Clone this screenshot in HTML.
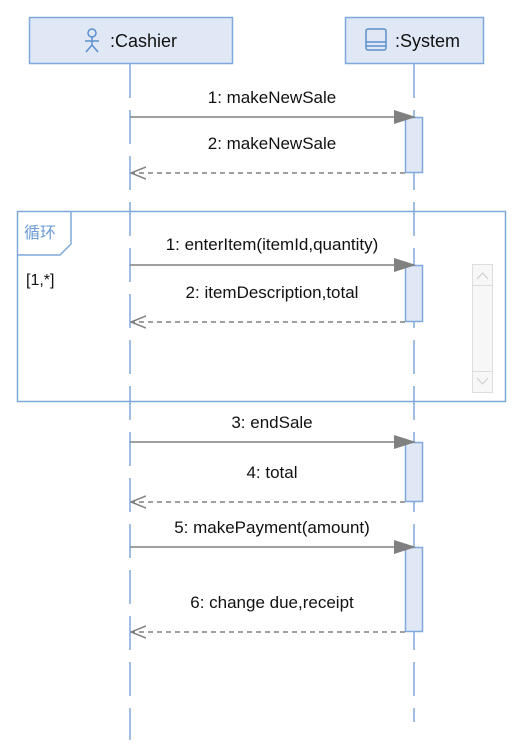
<!DOCTYPE html>
<html><head><meta charset="utf-8"><style>
html,body{margin:0;padding:0;background:#fff;width:524px;height:756px;overflow:hidden}
svg{display:block}
text{font-family:"Liberation Sans","Noto Sans CJK SC",sans-serif;fill:#111}
</style></head><body>
<svg width="524" height="756" viewBox="0 0 524 756" xmlns="http://www.w3.org/2000/svg">
<defs>
<marker id="fa" markerWidth="22" markerHeight="14" refX="20" refY="7" orient="auto" markerUnits="userSpaceOnUse">
<path d="M0,0 L22,7 L0,14 Z" fill="#808080"/></marker>
<marker id="oa" markerWidth="16" markerHeight="14" refX="15" refY="7" orient="auto" markerUnits="userSpaceOnUse">
<path d="M0,1 L15,7 L0,13" fill="none" stroke="#808080" stroke-width="1.5"/></marker>
</defs>
<line x1="130" y1="64" x2="130" y2="740" stroke="#7fa9dc" stroke-width="1.5" stroke-dasharray="34 12"/>
<line x1="414" y1="64" x2="414" y2="722" stroke="#7fa9dc" stroke-width="1.5" stroke-dasharray="34 12"/>
<rect x="29.5" y="17.5" width="203" height="46" fill="#dfe8f4" stroke="#7fa9dc" stroke-width="1.5"/>
<rect x="345.5" y="17.5" width="138" height="46" fill="#dfe8f4" stroke="#7fa9dc" stroke-width="1.5"/>
<g stroke="#5b8fcf" stroke-width="1.5" fill="none">
<circle cx="92" cy="33" r="4"/><line x1="92" y1="37" x2="92" y2="45"/><line x1="85" y1="41" x2="99" y2="41"/>
<line x1="92" y1="45" x2="86" y2="52"/><line x1="92" y1="45" x2="98" y2="52"/>
<rect x="366" y="29" width="20" height="21" rx="2"/><line x1="366" y1="42" x2="386" y2="42"/><line x1="366" y1="46" x2="386" y2="46"/>
</g>
<text x="110" y="47" font-size="18">:Cashier</text>
<text x="395" y="47" font-size="18">:System</text>
<rect x="17.5" y="211.5" width="488" height="190" fill="none" stroke="#7fa9dc" stroke-width="1.5"/>
<path d="M17.5,255 L60,255 L71,244 L71,211.5" fill="none" stroke="#7fa9dc" stroke-width="1.5"/>
<text x="24" y="238" font-size="16" style="fill:#6a9bd6">循环</text>
<text x="26" y="285" font-size="16">[1,*]</text>
<rect x="472.5" y="264.5" width="20" height="128" fill="#f7f7f7" stroke="#ddd"/>
<rect x="472.5" y="264.5" width="20" height="21" fill="#f7f7f7" stroke="#ddd"/>
<rect x="472.5" y="371.5" width="20" height="21" fill="#f7f7f7" stroke="#ddd"/>
<path d="M477,279 L482.5,273 L488,279" fill="none" stroke="#ccc"/>
<path d="M477,378 L482.5,384 L488,378" fill="none" stroke="#ccc"/>
<g fill="#dfe8f4" stroke="#7fa9dc" stroke-width="1.5">
<rect x="405.5" y="117.5" width="17" height="55"/>
<rect x="405.5" y="265.5" width="17" height="56"/>
<rect x="405.5" y="442.5" width="17" height="59"/>
<rect x="405.5" y="547.5" width="17" height="84"/>
</g>
<g stroke="#808080" stroke-width="1.5">
<line x1="130" y1="117" x2="414" y2="117" marker-end="url(#fa)"/>
<line x1="405" y1="173" x2="131" y2="173" stroke-dasharray="5 4" marker-end="url(#oa)"/>
<line x1="130" y1="265" x2="414" y2="265" marker-end="url(#fa)"/>
<line x1="405" y1="322" x2="131" y2="322" stroke-dasharray="5 4" marker-end="url(#oa)"/>
<line x1="130" y1="442" x2="414" y2="442" marker-end="url(#fa)"/>
<line x1="405" y1="502" x2="131" y2="502" stroke-dasharray="5 4" marker-end="url(#oa)"/>
<line x1="130" y1="547" x2="414" y2="547" marker-end="url(#fa)"/>
<line x1="405" y1="632" x2="131" y2="632" stroke-dasharray="5 4" marker-end="url(#oa)"/>
</g>
<g font-size="17" text-anchor="middle">
<text x="272" y="103">1: makeNewSale</text>
<text x="272" y="149">2: makeNewSale</text>
<text x="272" y="250">1: enterItem(itemId,quantity)</text>
<text x="272" y="298">2: itemDescription,total</text>
<text x="272" y="428">3: endSale</text>
<text x="272" y="478">4: total</text>
<text x="272" y="533">5: makePayment(amount)</text>
<text x="272" y="608">6: change due,receipt</text>
</g>
</svg>
</body></html>
